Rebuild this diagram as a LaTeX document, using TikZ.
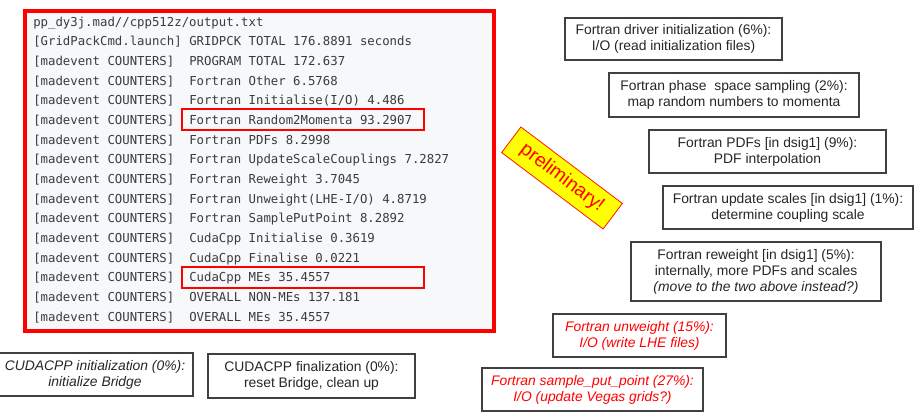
\documentclass[tikz,border=0pt]{standalone}
\usepackage{fontspec}
\setmainfont{Liberation Sans}
\newfontfamily\codefont{DejaVu Sans Mono}
\definecolor{codebg}{HTML}{F6F8FA}
\definecolor{codetxt}{HTML}{3B3B3B}
\definecolor{hired}{HTML}{FF0000}
\definecolor{boxline}{HTML}{404040}
\definecolor{stampyellow}{HTML}{FFFF00}
\begin{document}
\begin{tikzpicture}[x=0.75pt,y=-0.75pt,
  code/.style={anchor=base west, inner sep=0pt, text=codetxt,
    font=\codefont\fontsize{9.25pt}{11pt}\selectfont},
  note/.style={draw=boxline, line width=0.8pt, inner sep=0pt, align=center,
    text=black!85, font=\fontsize{10.4pt}{12pt}\selectfont},
  rednote/.style={note, text=hired, font=\fontsize{10.4pt}{12pt}\selectfont\itshape},
  sz/.style 2 args={minimum width=#1*0.75pt, minimum height=#2*0.75pt},
  hilite/.style={draw=hired, line width=1.6pt, inner sep=0pt, sz={242}{21}},
  stamp/.style={draw=hired!80!orange, line width=0.6pt, fill=stampyellow, text=hired,
    rotate=-37, inner sep=0pt, sz={127}{32},
    font=\fontsize{14.5pt}{16pt}\selectfont}]
\useasboundingbox (0,0) rectangle (914,412);

% console output panel
\node[draw=hired, line width=2.3pt, fill=codebg, inner sep=0pt, sz={469}{320}]
  (panel) at (259.5,171) {};

\node[code] (c1) at (33,26) {pp\_dy3j.mad//cpp512z/output.txt};
\node[code] (c2) at (33,45.67) {[GridPackCmd.launch]};
\node[code] (d2) at (189,45.67) {GRIDPCK TOTAL 176.8891 seconds};
\foreach \t [count=\k from 3] in {
  {PROGRAM TOTAL 172.637},
  {Fortran Other 6.5768},
  {Fortran Initialise(I/O) 4.486},
  {Fortran Random2Momenta 93.2907},
  {Fortran PDFs 8.2998},
  {Fortran UpdateScaleCouplings 7.2827},
  {Fortran Reweight 3.7045},
  {Fortran Unweight(LHE-I/O) 4.8719},
  {Fortran SamplePutPoint 8.2892},
  {CudaCpp Initialise 0.3619},
  {CudaCpp Finalise 0.0221},
  {CudaCpp MEs 35.4557},
  {OVERALL NON-MEs 137.181},
  {OVERALL MEs 35.4557}} {
  \node[code] (c\k) at (33,{26+19.67*(\k-1)}) {[madevent COUNTERS]};
  \node[code] (d\k) at (189,{26+19.67*(\k-1)}) {\t};
}

% highlighted counters
\node[hilite] (hlmom) at (303,119.5) {};
\node[hilite] (hlmes) at (303,277.2) {};

% stamp
\node[stamp] (prelim) at (562,178) {preliminary!};

% explanatory boxes
\node[note, sz={217}{42}] (drvinit) at (673.5,39)
  {Fortran driver initialization (6\%):\\I/O (read initialization files)};
\node[note, sz={250}{44}] (phsp) at (734,95)
  {Fortran phase\ \ space sampling (2\%):\\map random numbers to momenta};
\node[note, sz={237}{43}] (pdfs) at (767.5,151.5)
  {Fortran PDFs [in dsig1] (9\%):\\PDF interpolation};
\node[note, sz={250}{43}] (scales) at (788,207.5)
  {Fortran update scales [in dsig1] (1\%):\\determine coupling scale};
\node[note, sz={250}{59}] (rewgt) at (756,271.5)
  {Fortran reweight [in dsig1] (5\%):\\internally, more PDFs and scales\\\textit{(move to the two above instead?)}};
\node[rednote, sz={173}{43}] (unwgt) at (639.5,335.5)
  {Fortran unweight (15\%):\\I/O (write LHE files)};
\node[rednote, sz={221}{43}] (spp) at (592.5,389.5)
  {Fortran sample\_put\_point (27\%):\\I/O (update Vegas grids?)};
\node[note, sz={196}{43}, font=\fontsize{10.4pt}{12pt}\selectfont\itshape] (cinit) at (95,374.5)
  {CUDACPP initialization (0\%):\\initialize Bridge};
\node[note, sz={207}{44}] (cfin) at (311.5,376)
  {CUDACPP finalization (0\%):\\reset Bridge, clean up};
\end{tikzpicture}
\end{document}
